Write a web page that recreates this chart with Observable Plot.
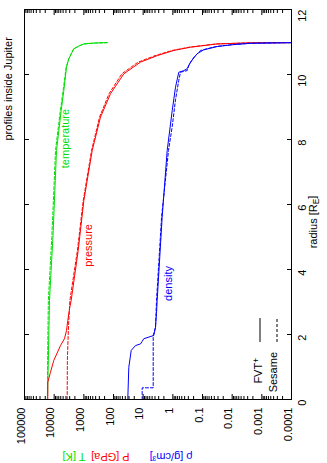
<!DOCTYPE html>
<html><head><meta charset="utf-8">
<script src="https://cdn.jsdelivr.net/npm/d3@7"></script>
<script src="https://cdn.jsdelivr.net/npm/@observablehq/plot@0.6"></script>
<style>body{margin:0;background:#fff}</style>
</head><body><div id="chart"></div>
<script>
// ---- axes ----
const logTicks = [1e5, 1e4, 1e3, 100, 10, 1, 0.1, 0.01, 0.001, 0.0001];
const logTickLabels = ["100000", "10000", "1000", "100", "10", "1", "0.1", "0.01", "0.001", "0.0001"];
const radiusTicks = [0, 2, 4, 6, 8, 10, 12];
const radiusTickLabels = ["0", "2", "4", "6", "8", "10", "12"];

// ---- temperature [K] ----
const tempFvtR = [0, 1.5, 3.05, 5.0, 7.66, 8.89, 9.5, 10.22, 10.48, 10.79, 10.87, 10.94, 10.97, 10.98];
const tempFvtV = [16800, 15500, 14400, 11000, 8340, 5800, 4730, 3840, 3210, 2180, 1510, 1000, 410, 163];
const tempSesR = [0, 1.5, 3.05, 5.0, 7.66, 8.89, 9.5, 10.22, 10.48, 10.79, 10.87, 10.94, 10.97, 10.98];
const tempSesV = [16900, 16500, 15700, 12000, 9000, 6200, 5000, 3950, 3250, 2200, 1520, 1000, 410, 163];

// ---- pressure [GPa] ----
const presFvtR = [0, 0.53, 0.84, 1.2, 1.66, 1.87, 2.12, 2.43, 2.84, 3.05, 4.58, 6.12, 7.66, 8.69, 9.41, 10.02, 10.38, 10.58, 10.74, 10.84, 10.94, 10.975, 10.98];
const presFvtV = [16400, 16400, 13300, 10300, 6120, 4490, 3840, 3470, 2970, 2670, 1550, 1000, 522, 274, 126, 45, 12.3, 3.37, 0.93, 0.254, 0.032, 0.0024, 0.0001];
const presSesR = [0, 1.2, 2.2, 3.05, 4.58, 6.12, 7.66, 8.69, 9.41, 10.02, 10.38, 10.58, 10.74, 10.84, 10.94, 10.975, 10.98];
const presSesV = [3640, 3590, 3310, 2950, 1650, 1047, 550, 295, 141, 52.5, 14.8, 3.98, 1.05, 0.282, 0.0355, 0.00251, 0.0001];

// ---- density [g/cm3] ----
const densFvtR = [0, 0.99, 1.51, 1.66, 1.71, 1.79, 1.87, 1.97, 2.22, 2.64, 3.05, 5.61, 7.66, 8.89, 9.61, 10.07, 10.12, 10.18, 10.38, 10.64, 10.76, 10.86, 10.92, 10.96, 10.975, 10.98];
const densFvtV = [33.0, 30.5, 25.3, 18.1, 12.3, 10.8, 9.53, 4.39, 3.84, 3.56, 3.37, 2.29, 1.55, 1.05, 0.813, 0.630, 0.427, 0.328, 0.254, 0.151, 0.0904, 0.032, 0.00881, 0.00241, 0.000235, 0.0001];
const densSesR = [0, 0.36, 0.36, 1.97, 2.22, 3.05, 5.61, 7.66, 8.4, 9.22, 9.82, 10.07, 10.12, 10.28, 10.53, 10.74, 10.86, 10.92, 10.96, 10.975, 10.98];
const densSesV = [10.8, 10.8, 4.59, 4.59, 3.84, 3.55, 2.40, 1.40, 1.05, 0.813, 0.630, 0.552, 0.328, 0.290, 0.196, 0.117, 0.0355, 0.01, 0.00251, 0.000251, 0.0001];

const GREEN = "#00e000", RED = "#ff0000", BLUE = "#0000ff";
const FONT = "'Liberation Sans', Arial, Helvetica, sans-serif";

const toRows = (R, V) => R.map((r, i) => ({r, v: V[i]}));
const series = [
  {rows: toRows(tempFvtR, tempFvtV), color: GREEN, dash: null},
  {rows: toRows(tempSesR, tempSesV), color: GREEN, dash: "3,2"},
  {rows: toRows(presFvtR, presFvtV), color: RED, dash: null},
  {rows: toRows(presSesR, presSesV), color: RED, dash: "3,2"},
  {rows: toRows(densFvtR, densFvtV), color: BLUE, dash: null},
  {rows: toRows(densSesR, densSesV), color: BLUE, dash: "3,2"}
];

const minorLog = [];
for (let e = -4; e < 5; e++) for (let m = 2; m <= 9; m++) minorLog.push(m * Math.pow(10, e));

// rich text helper (sub/superscripts)
function rich(parts, {x, y, rotate = 0, anchor = "middle", fill = "black", size = 11}) {
  return () => {
    const t = d3.create("svg:text")
      .attr("transform", `translate(${x},${y}) rotate(${rotate})`)
      .attr("text-anchor", anchor).attr("dy", "0.32em")
      .attr("fill", fill).attr("font-size", size).attr("font-family", FONT);
    let shift = 0;
    for (const p of parts) {
      const target = p.sub ? 0.3 : p.sup ? -0.4 : 0;
      const s = t.append("tspan").text(p.t).attr("dy", (target - shift) + "em");
      if (p.sub || p.sup) s.attr("font-size", size * 0.75);
      shift = target;
    }
    return t.node();
  };
}
function seg(x1, y1, x2, y2, dash) {
  return () => {
    const l = d3.create("svg:line").attr("x1", x1).attr("y1", y1).attr("x2", x2).attr("y2", y2)
      .attr("stroke", "black").attr("stroke-width", 1);
    if (dash) l.attr("stroke-dasharray", dash);
    return l.node();
  };
}

const chart = Plot.plot({
  width: 327, height: 463,
  marginLeft: 24, marginRight: 36, marginTop: 9, marginBottom: 64,
  style: {fontFamily: FONT, fontSize: "11px", background: "white", color: "black"},
  x: {type: "log", domain: [1e5, 1e-4], axis: null},
  y: {domain: [0, 12], axis: null},
  marks: [
    ...series.map(s => Plot.line(s.rows, {x: "v", y: "r", stroke: s.color, strokeWidth: 1, strokeDasharray: s.dash, clip: true})),
    Plot.frame({stroke: "black", strokeWidth: 1}),
    Plot.axisX(logTicks, {anchor: "bottom", tickSize: -5, fill: "none", label: null}),
    Plot.axisX(minorLog, {anchor: "bottom", tickSize: -3, fill: "none", label: null}),
    Plot.axisX(logTicks, {anchor: "top", tickSize: -5, fill: "none", label: null}),
    Plot.axisX(minorLog, {anchor: "top", tickSize: -3, fill: "none", label: null}),
    Plot.axisY(radiusTicks, {anchor: "right", tickSize: -5, fill: "none", label: null}),
    Plot.axisY(radiusTicks, {anchor: "left", tickSize: -5, fill: "none", label: null}),
    Plot.text(logTicks, {x: d => d, text: (d, i) => logTickLabels[i], frameAnchor: "bottom", dy: 8, rotate: -90, textAnchor: "end", fill: "black", fontSize: 11}),
    Plot.text(radiusTicks, {y: d => d, text: (d, i) => radiusTickLabels[i], frameAnchor: "right", dx: 11, rotate: -90, fill: "black", fontSize: 11}),
    Plot.text(["profiles inside Jupiter"], {frameAnchor: "left", dx: -16, dy: -64, rotate: -90, fill: "black", fontSize: 11}),
    // curve labels
    Plot.text(["temperature"], {x: [4200], y: [8.03], rotate: -90, fill: GREEN, fontSize: 11}),
    Plot.text(["pressure"], {x: [680], y: [4.74], rotate: -90, fill: RED, fontSize: 11}),
    Plot.text(["density"], {x: [1.37], y: [3.57], rotate: -90, fill: BLUE, fontSize: 11}),
    // bottom axis label (upside down)
    Plot.text(["T [K]"], {frameAnchor: "bottom-left", dx: 61, dy: 53, rotate: 180, fill: GREEN, fontSize: 11}),
    Plot.text(["P [GPa]"], {frameAnchor: "bottom-left", dx: 105, dy: 53, rotate: 180, fill: RED, fontSize: 11}),
    Plot.text(["ρ [g/cm³]"], {frameAnchor: "bottom-left", dx: 168, dy: 53, rotate: 180, fill: BLUE, fontSize: 11}),
    // right axis label
    rich([{t: "radius [R"}, {t: "E", sub: true}, {t: "]"}], {x: 317, y: 222, rotate: -90}),
    // key
    rich([{t: "FVT"}, {t: "+", sup: true}], {x: 262, y: 358, rotate: -90, anchor: "end"}),
    seg(260, 342, 260, 318, null),
    rich([{t: "Sesame"}], {x: 277, y: 352, rotate: -90, anchor: "end"}),
    seg(277, 342, 277, 318, "3,2")
  ]
});
document.getElementById("chart").appendChild(chart);
</script>
</body></html>
